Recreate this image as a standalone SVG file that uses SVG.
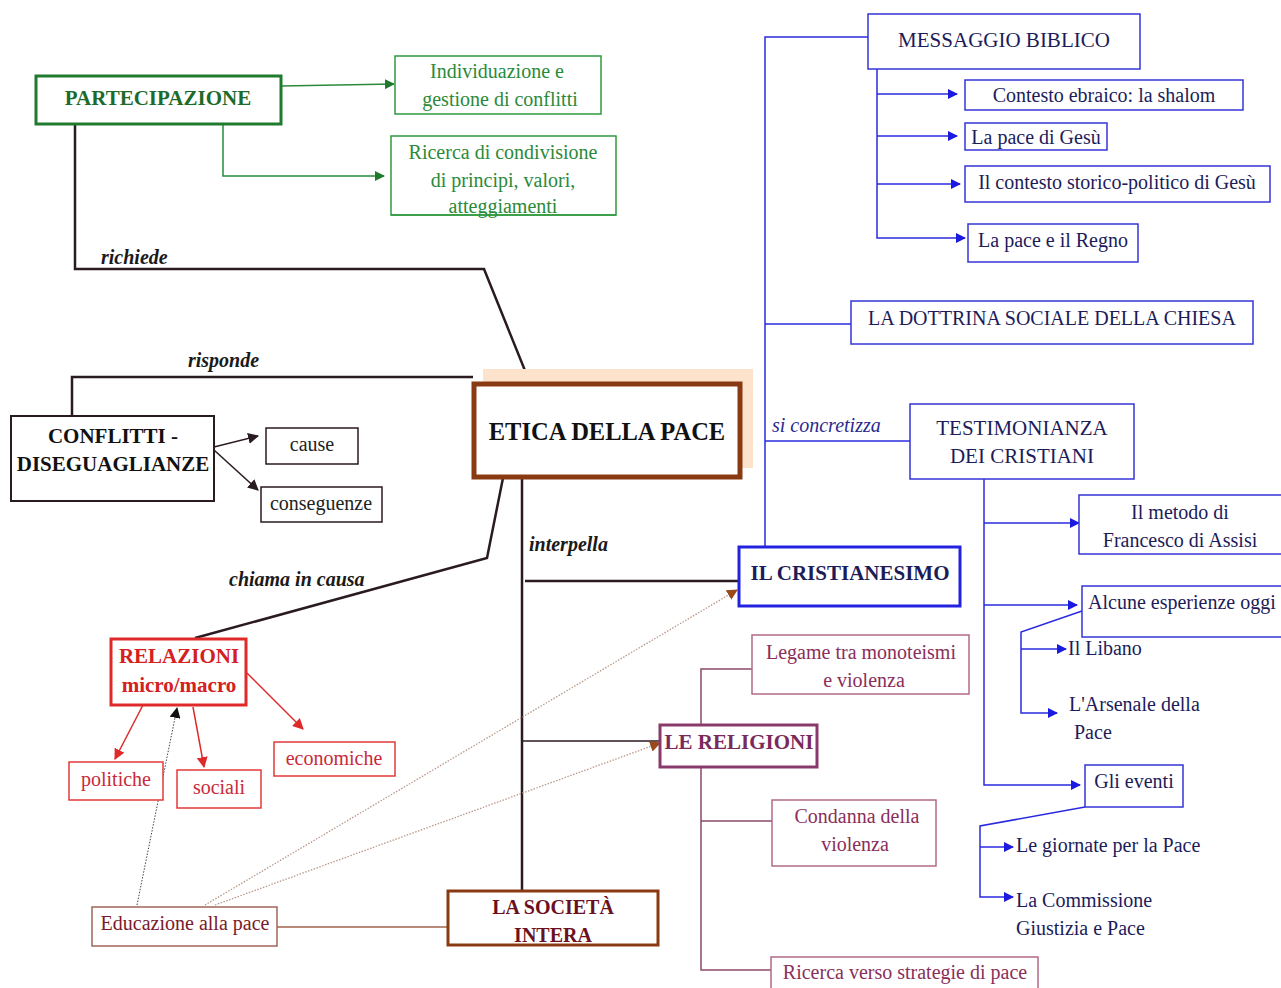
<svg xmlns="http://www.w3.org/2000/svg" width="1281" height="988" viewBox="0 0 1281 988">
  <style>
    text { font-family: "Liberation Serif", "Times New Roman", serif; font-size: 20px; text-anchor: middle; dominant-baseline: central; }
    .b { font-weight: bold; }
    .lbl { font-weight: bold; font-style: italic; fill: #1a1a1a; text-anchor: start; }
    .box { fill: #ffffff; }
    .g-box { stroke: #2f9a3e; stroke-width: 1.5; }
    .g-txt { fill: #2a8a3a; }
    .blue-box { stroke: #3434d8; stroke-width: 1.5; }
    .blue-txt { fill: #1c1c5a; }
    .red-box { stroke: #e43a3a; stroke-width: 1.5; }
    .red-txt { fill: #d42020; }
    .mauve-box { stroke: #b46a88; stroke-width: 1.5; }
    .mauve-txt { fill: #8a2e5a; }
    .dark-box { stroke: #2a1a22; stroke-width: 1.5; }
    .dark-txt { fill: #111111; }
    .c { fill: none; }
    .c-dark { stroke: #2a1a22; stroke-width: 2.5; }
    .c-green { stroke: #2a8a3a; stroke-width: 1.5; }
    .c-blue { stroke: #2a2ae0; stroke-width: 1.5; }
    .c-red { stroke: #e02a2a; stroke-width: 1.5; }
    .c-mauve { stroke: #8a4a6a; stroke-width: 1.5; }
    .c-tan { stroke: #b88a7a; stroke-width: 2; }
    .c-dot { stroke: #444444; stroke-width: 1; stroke-dasharray: 1.5 1.5; }
    .c-dotbrown { stroke: #b8988a; stroke-width: 1.3; stroke-dasharray: 1.5 1.5; }
  </style>
  <defs>
    <marker id="ah-green" viewBox="0 0 10 10" refX="9" refY="5" markerWidth="10" markerHeight="10" markerUnits="userSpaceOnUse" orient="auto">
      <path d="M0,0 L10,5 L0,10 z" fill="#1f7a2e"/>
    </marker>
    <marker id="ah-dark" viewBox="0 0 10 10" refX="9" refY="5" markerWidth="11" markerHeight="11" markerUnits="userSpaceOnUse" orient="auto">
      <path d="M0,0 L10,5 L0,10 z" fill="#2a1a22"/>
    </marker>
    <marker id="ah-blue" viewBox="0 0 10 10" refX="9" refY="5" markerWidth="10" markerHeight="10" markerUnits="userSpaceOnUse" orient="auto">
      <path d="M0,0 L10,5 L0,10 z" fill="#1a1ae0"/>
    </marker>
    <marker id="ah-red" viewBox="0 0 10 10" refX="9" refY="5" markerWidth="11" markerHeight="11" markerUnits="userSpaceOnUse" orient="auto">
      <path d="M0,0 L10,5 L0,10 z" fill="#e02a2a"/>
    </marker>
    <marker id="ah-black" viewBox="0 0 10 10" refX="9" refY="5" markerWidth="11" markerHeight="11" markerUnits="userSpaceOnUse" orient="auto">
      <path d="M0,0 L10,5 L0,10 z" fill="#111111"/>
    </marker>
    <marker id="ah-brown" viewBox="0 0 10 10" refX="9" refY="5" markerWidth="11" markerHeight="11" markerUnits="userSpaceOnUse" orient="auto">
      <path d="M0,0 L10,5 L0,10 z" fill="#9a4a1a"/>
    </marker>
  </defs>

  <rect width="1281" height="988" fill="#ffffff"/>

  <!-- connectors -->
  <g id="connectors">
    <!-- PARTECIPAZIONE branches -->
    <path class="c c-green" d="M281,86 L394,84" marker-end="url(#ah-green)"/>
    <path class="c c-green" d="M223,124 L223,176 L384,176" marker-end="url(#ah-green)"/>
    <!-- richiede -->
    <path class="c c-dark" d="M75,124 L75,269 L484,269 L530,383"/>
    <!-- risponde -->
    <path class="c c-dark" d="M72,416 L72,377 L473,377"/>
    <!-- CONFLITTI to cause / conseguenze -->
    <path class="c c-dark" style="stroke-width:1.5" d="M214,447 L258,436" marker-end="url(#ah-dark)"/>
    <path class="c c-dark" style="stroke-width:1.5" d="M214,450 L258,490" marker-end="url(#ah-dark)"/>
    <!-- chiama in causa -->
    <path class="c c-dark" d="M503,478 L487,558 L195,638"/>
    <!-- RELAZIONI branches -->
    <path class="c c-red" d="M143,705 L115,759" marker-end="url(#ah-red)"/>
    <path class="c c-red" d="M193,707 L204,767" marker-end="url(#ah-red)"/>
    <path class="c c-red" d="M247,673 L303,729" marker-end="url(#ah-red)"/>
    <!-- interpella: main trunk -->
    <path class="c c-dark" d="M522,478 L522,891"/>
    <path class="c c-dark" d="M525,581 L738,581"/>
    <path class="c c-dark" style="stroke-width:1.5" d="M522,741 L660,741"/>
    <!-- Educazione alla pace -->
    <path class="c c-tan" d="M277,927 L447,927"/>
    <path class="c c-dot" d="M137,905 L177,708" marker-end="url(#ah-black)"/>
    <path class="c c-dotbrown" d="M205,905 L737,590" marker-end="url(#ah-brown)"/>
    <path class="c c-dotbrown" d="M215,905 L660,743" marker-end="url(#ah-brown)"/>
    <!-- IL CRISTIANESIMO trunk -->
    <path class="c c-blue" d="M765,547 L765,37 L868,37"/>
    <path class="c c-blue" d="M765,324 L851,324"/>
    <path class="c c-blue" d="M765,441 L910,441"/>
    <!-- MESSAGGIO BIBLICO branches -->
    <path class="c c-blue" d="M877,69 L877,238 L965,238" marker-end="url(#ah-blue)"/>
    <path class="c c-blue" d="M877,94 L957,94" marker-end="url(#ah-blue)"/>
    <path class="c c-blue" d="M877,136 L957,136" marker-end="url(#ah-blue)"/>
    <path class="c c-blue" d="M877,184 L960,184" marker-end="url(#ah-blue)"/>
    <!-- TESTIMONIANZA branches -->
    <path class="c c-blue" d="M984,479 L984,785 L1080,785" marker-end="url(#ah-blue)"/>
    <path class="c c-blue" d="M984,523 L1079,523" marker-end="url(#ah-blue)"/>
    <path class="c c-blue" d="M984,605 L1077,605" marker-end="url(#ah-blue)"/>
    <!-- Alcune esperienze oggi -->
    <path class="c c-blue" d="M1082,611 L1021,632 L1021,713 L1057,713" marker-end="url(#ah-blue)"/>
    <path class="c c-blue" d="M1021,649 L1066,649" marker-end="url(#ah-blue)"/>
    <!-- Gli eventi -->
    <path class="c c-blue" d="M1085,807 L980,826 L980,897 L1013,897" marker-end="url(#ah-blue)"/>
    <path class="c c-blue" d="M980,847 L1013,847" marker-end="url(#ah-blue)"/>
    <!-- LE RELIGIONI branches -->
    <path class="c c-mauve" d="M701,725 L701,669 L752,669"/>
    <path class="c c-mauve" d="M701,767 L701,970 L771,970"/>
    <path class="c c-mauve" d="M701,821 L772,821"/>
  </g>

  <!-- connector labels -->
  <g id="labels">
    <text class="lbl" x="101" y="257">richiede</text>
    <text class="lbl" x="188" y="360">risponde</text>
    <text class="lbl" x="229" y="579">chiama in causa</text>
    <text class="lbl" x="529" y="544">interpella</text>
    <text x="772" y="425" style="font-style:italic;fill:#2a2a90;text-anchor:start">si concretizza</text>
  </g>

  <g id="partecipazione">
    <rect class="box" x="36" y="76" width="245" height="48" style="stroke:#1f7a2e;stroke-width:3"/>
    <text class="b" x="158" y="98" style="fill:#1d6b2a;font-size:21px">PARTECIPAZIONE</text>
  </g>
  <g id="individuazione">
    <rect class="box g-box" x="395" y="56" width="206" height="58"/>
    <text class="g-txt" x="497" y="71">Individuazione e</text>
    <text class="g-txt" x="500" y="99">gestione di conflitti</text>
  </g>
  <g id="ricerca-condivisione">
    <rect class="box g-box" x="391" y="136" width="225" height="79"/>
    <text class="g-txt" x="503" y="152">Ricerca di condivisione</text>
    <text class="g-txt" x="503" y="180">di principi, valori,</text>
    <text class="g-txt" x="503" y="206">atteggiamenti</text>
    <line x1="391" y1="215" x2="616" y2="215" class="g-box"/>
  </g>

  <g id="etica">
    <rect x="483" y="369" width="270" height="99" fill="#fde3cc"/>
    <rect class="box" x="474" y="384" width="266" height="93" style="stroke:#8a3a12;stroke-width:5"/>
    <text class="b" x="607" y="431" style="font-size:24.5px;fill:#111">ETICA DELLA PACE</text>
  </g>

  <g id="conflitti">
    <rect class="box dark-box" x="11" y="416" width="203" height="85" style="stroke-width:2"/>
    <text class="b dark-txt" x="113" y="436" style="font-size:21px">CONFLITTI -</text>
    <text class="b dark-txt" x="113" y="464" style="font-size:21px">DISEGUAGLIANZE</text>
  </g>
  <g id="cause">
    <rect class="box dark-box" x="266" y="428" width="92" height="36"/>
    <text class="dark-txt" x="312" y="444" style="fill:#222">cause</text>
  </g>
  <g id="conseguenze">
    <rect class="box dark-box" x="261" y="487" width="121" height="35"/>
    <text class="dark-txt" x="321" y="503" style="fill:#222">conseguenze</text>
  </g>

  <g id="relazioni">
    <rect class="box" x="111" y="639" width="135" height="66" style="stroke:#e02a2a;stroke-width:3"/>
    <text class="b red-txt" x="179" y="656" style="font-size:21px">RELAZIONI</text>
    <text class="b red-txt" x="179" y="685" style="font-size:21px">micro/macro</text>
  </g>
  <g id="politiche">
    <rect class="box red-box" x="69" y="762" width="94" height="38"/>
    <text class="red-txt" x="116" y="779" style="fill:#c82a3a">politiche</text>
  </g>
  <g id="sociali">
    <rect class="box red-box" x="177" y="770" width="84" height="38"/>
    <text class="red-txt" x="219" y="787" style="fill:#c82a3a">sociali</text>
  </g>
  <g id="economiche">
    <rect class="box red-box" x="274" y="742" width="121" height="34"/>
    <text class="red-txt" x="334" y="758" style="fill:#c82a3a">economiche</text>
  </g>

  <g id="educazione">
    <rect class="box" x="92" y="907" width="185" height="39" style="stroke:#a0645a;stroke-width:1.5"/>
    <text x="185" y="923" style="fill:#7a1a2a">Educazione alla pace</text>
  </g>
  <g id="societa">
    <rect class="box" x="448" y="891" width="210" height="54" style="stroke:#8a3a12;stroke-width:3"/>
    <text class="b" x="553" y="907" style="fill:#6a1020">LA SOCIETÀ</text>
    <text class="b" x="553" y="935" style="fill:#6a1020">INTERA</text>
  </g>

  <g id="cristianesimo">
    <rect class="box" x="739" y="547" width="221" height="59" style="stroke:#2222e0;stroke-width:3"/>
    <text class="b" x="850" y="573" style="fill:#1c1c5a;font-size:21px">IL CRISTIANESIMO</text>
  </g>

  <g id="messaggio-biblico">
    <rect class="box blue-box" x="868" y="14" width="272" height="55"/>
    <text class="blue-txt" x="1004" y="40" style="font-size:21px">MESSAGGIO BIBLICO</text>
  </g>
  <g id="shalom">
    <rect class="box blue-box" x="965" y="80" width="278" height="30"/>
    <text class="blue-txt" x="1104" y="95">Contesto ebraico: la shalom</text>
  </g>
  <g id="pace-gesu">
    <rect class="box blue-box" x="965" y="123" width="142" height="27"/>
    <text class="blue-txt" x="1036" y="137">La pace di Gesù</text>
  </g>
  <g id="contesto-storico">
    <rect class="box blue-box" x="965" y="166" width="305" height="36"/>
    <text class="blue-txt" x="1117" y="182">Il contesto storico-politico di Gesù</text>
  </g>
  <g id="pace-regno">
    <rect class="box blue-box" x="968" y="224" width="170" height="38"/>
    <text class="blue-txt" x="1053" y="240">La pace e il Regno</text>
  </g>
  <g id="dottrina">
    <rect class="box blue-box" x="851" y="301" width="402" height="43"/>
    <text class="blue-txt" x="1052" y="318">LA DOTTRINA SOCIALE DELLA CHIESA</text>
  </g>
  <g id="testimonianza">
    <rect class="box blue-box" x="910" y="404" width="224" height="75"/>
    <text class="blue-txt" x="1022" y="428" style="font-size:21px">TESTIMONIANZA</text>
    <text class="blue-txt" x="1022" y="456" style="font-size:21px">DEI CRISTIANI</text>
  </g>
  <g id="francesco">
    <rect class="box blue-box" x="1079" y="495" width="210" height="59"/>
    <text class="blue-txt" x="1180" y="512">Il metodo di</text>
    <text class="blue-txt" x="1180" y="540">Francesco di Assisi</text>
  </g>
  <g id="esperienze">
    <rect class="box blue-box" x="1082" y="586" width="210" height="51"/>
    <text class="blue-txt" x="1088" y="602" style="text-anchor:start">Alcune esperienze oggi</text>
  </g>
  <g id="libano">
    <text class="blue-txt" x="1068" y="648" style="text-anchor:start">Il Libano</text>
  </g>
  <g id="arsenale">
    <text class="blue-txt" x="1069" y="704" style="text-anchor:start">L'Arsenale della</text>
    <text class="blue-txt" x="1074" y="732" style="text-anchor:start">Pace</text>
  </g>
  <g id="eventi">
    <rect class="box blue-box" x="1085" y="765" width="98" height="42"/>
    <text class="blue-txt" x="1134" y="781">Gli eventi</text>
  </g>
  <g id="giornate">
    <text class="blue-txt" x="1016" y="845" style="text-anchor:start">Le giornate per la Pace</text>
  </g>
  <g id="commissione">
    <text class="blue-txt" x="1016" y="900" style="text-anchor:start">La Commissione</text>
    <text class="blue-txt" x="1016" y="928" style="text-anchor:start">Giustizia e Pace</text>
  </g>

  <g id="religioni">
    <rect class="box" x="660" y="725" width="157" height="42" style="stroke:#8a3a6a;stroke-width:3"/>
    <text class="b" x="739" y="742" style="fill:#7a2a5a;font-size:21px">LE RELIGIONI</text>
  </g>
  <g id="legame">
    <rect class="box mauve-box" x="752" y="635" width="217" height="59"/>
    <text class="mauve-txt" x="861" y="652">Legame tra monoteismi</text>
    <text class="mauve-txt" x="864" y="680">e violenza</text>
  </g>
  <g id="condanna">
    <rect class="box mauve-box" x="772" y="800" width="164" height="66"/>
    <text class="mauve-txt" x="857" y="816">Condanna della</text>
    <text class="mauve-txt" x="855" y="844">violenza</text>
  </g>
  <g id="ricerca-strategie">
    <rect class="box mauve-box" x="771" y="957" width="267" height="40"/>
    <text class="mauve-txt" x="905" y="972">Ricerca verso strategie di pace</text>
  </g>
</svg>
